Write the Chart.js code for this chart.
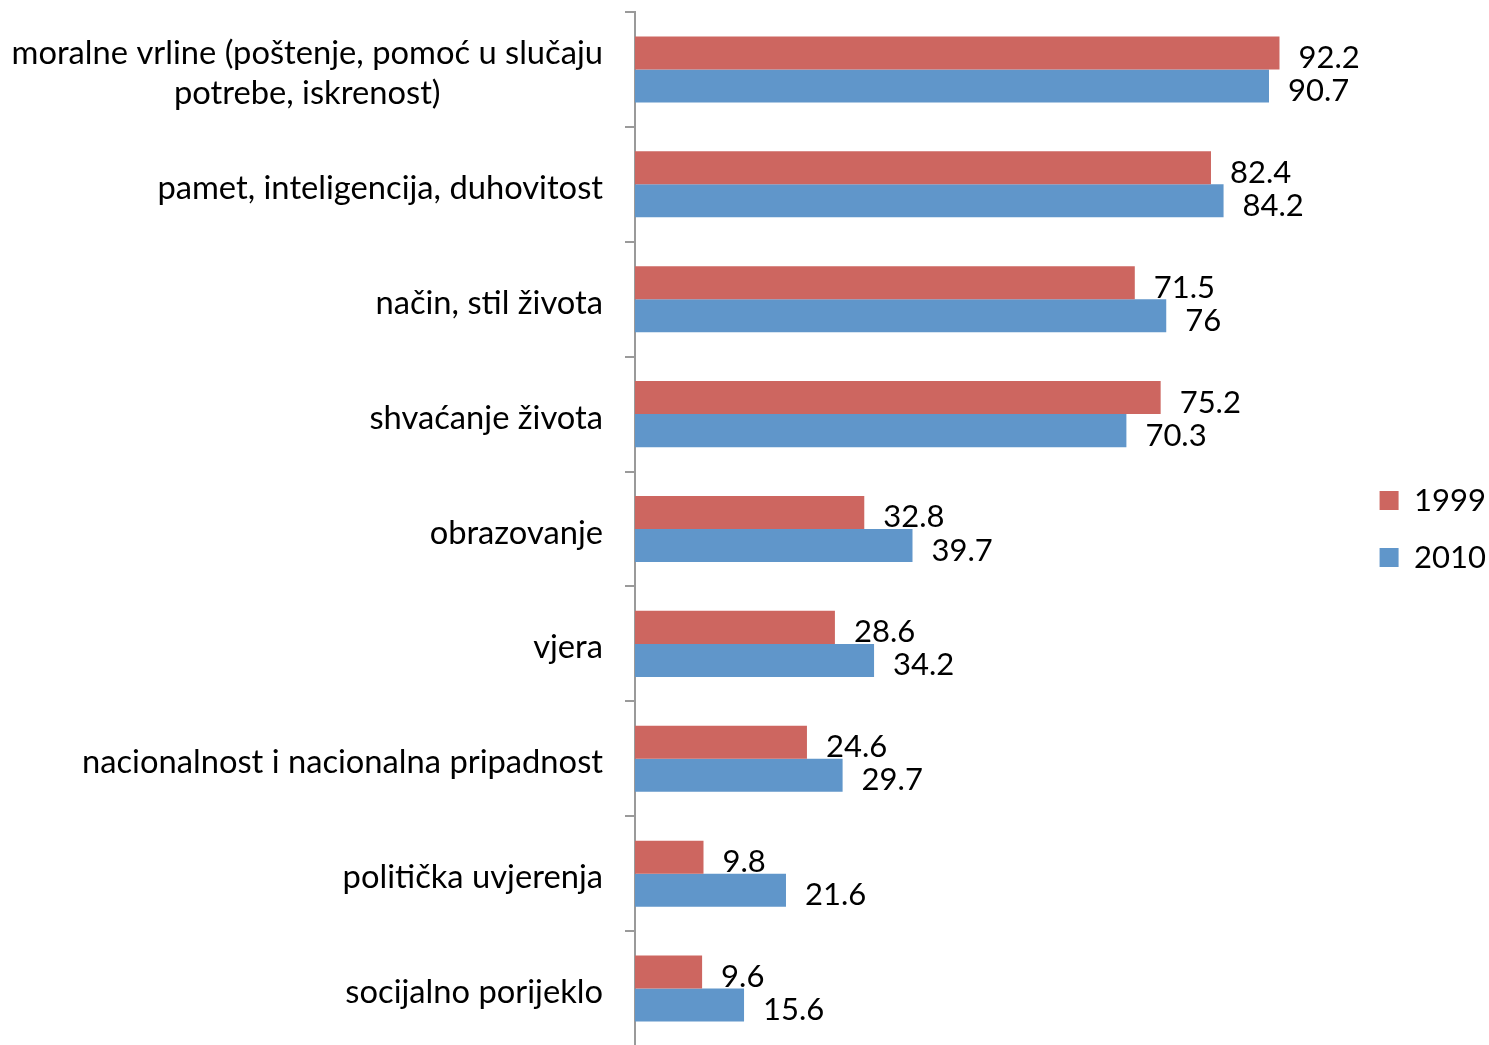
<!DOCTYPE html>
<html>
<head>
<meta charset="utf-8">
<script src="https://cdn.jsdelivr.net/npm/chart.js@4"></script>
<style>
  html, body { margin: 0; padding: 0; background: #fff; overflow: hidden; }
  #wrap { position: relative; width: 1496px; height: 1058px; }
</style>
</head>
<body>
<div id="wrap"><canvas id="chart"></canvas></div>
<script>
const categories = [
  ['moralne vrline (poštenje, pomoć u slučaju', 'potrebe, iskrenost)'],
  'pamet, inteligencija, duhovitost',
  'način, stil života',
  'shvaćanje života',
  'obrazovanje',
  'vjera',
  'nacionalnost i nacionalna pripadnost',
  'politička uvjerenja',
  'socijalno porijeklo'
];
const seriesNames = ['1999', '2010'];
const values1999 = [92.2, 82.4, 71.5, 75.2, 32.8, 28.6, 24.6, 9.8, 9.6];
const values2010 = [90.7, 84.2, 76, 70.3, 39.7, 34.2, 29.7, 21.6, 15.6];

const FONT_FAMILY = 'Lato, "Open Sans", sans-serif';
const CAT_FONT = '32.7px ' + FONT_FAMILY;
const VAL_SIZE = 31;
const VAL_FONT = VAL_SIZE + 'px ' + FONT_FAMILY;

// category names, right aligned; multi-line names centred on their widest line
const catLabels = {
  id: 'catLabels',
  afterDraw(chart) {
    const { ctx } = chart;
    const y = chart.scales.y;
    ctx.save();
    ctx.font = CAT_FONT;
    ctx.fillStyle = '#000';
    ctx.textBaseline = 'middle';
    const right = y.right - 32;
    categories.forEach((c, i) => {
      const lines = Array.isArray(c) ? c : [c];
      const yc = y.getPixelForValue(i) + 4;
      const w = Math.max(...lines.map(l => ctx.measureText(l).width));
      lines.forEach((l, j) => {
        const ly = yc + (j - (lines.length - 1) / 2) * 40;
        if (lines.length > 1) { ctx.textAlign = 'center'; ctx.fillText(l, right - w / 2, ly); }
        else { ctx.textAlign = 'right'; ctx.fillText(l, right, ly); }
      });
    });
    ctx.restore();
  }
};

// value labels after each bar
const valueLabels = {
  id: 'valueLabels',
  afterDatasetsDraw(chart) {
    const { ctx } = chart;
    ctx.save();
    ctx.font = VAL_FONT;
    ctx.fillStyle = '#000';
    ctx.textAlign = 'left';
    ctx.textBaseline = 'middle';
    chart.data.datasets.forEach((ds, di) => {
      chart.getDatasetMeta(di).data.forEach((bar, i) => {
        ctx.fillText(String(ds.data[i]), bar.x + 19, bar.y + 5);
      });
    });
    ctx.restore();
  }
};

new Chart(document.getElementById('chart'), {
  type: 'bar',
  data: {
    labels: categories,
    datasets: [
      { label: seriesNames[0], data: values1999, backgroundColor: '#CD6660', borderWidth: 0 },
      { label: seriesNames[1], data: values2010, backgroundColor: '#6096CA', borderWidth: 0 }
    ]
  },
  options: {
    indexAxis: 'y',
    responsive: true,
    maintainAspectRatio: false,
    animation: false,
    barPercentage: 1,
    categoryPercentage: 0.575,
    layout: { padding: { top: 12, bottom: 12, left: 0, right: 0 } },
    scales: {
      x: { display: false, min: 0, max: 102.8 },
      y: {
        offset: true,
        grid: { drawOnChartArea: false, drawTicks: true, tickLength: 10, color: '#9a9a9a', lineWidth: 2 },
        border: { color: '#9a9a9a', width: 2 },
        ticks: { display: false },
        afterFit(scale) { scale.width = 635; }
      }
    },
    plugins: {
      legend: {
        position: 'right',
        labels: {
          boxWidth: 19, boxHeight: 19, padding: 26,
          color: '#000', font: { family: FONT_FAMILY, size: VAL_SIZE }
        }
      },
      tooltip: { enabled: false }
    }
  },
  plugins: [catLabels, valueLabels]
});
</script>
</body>
</html>
